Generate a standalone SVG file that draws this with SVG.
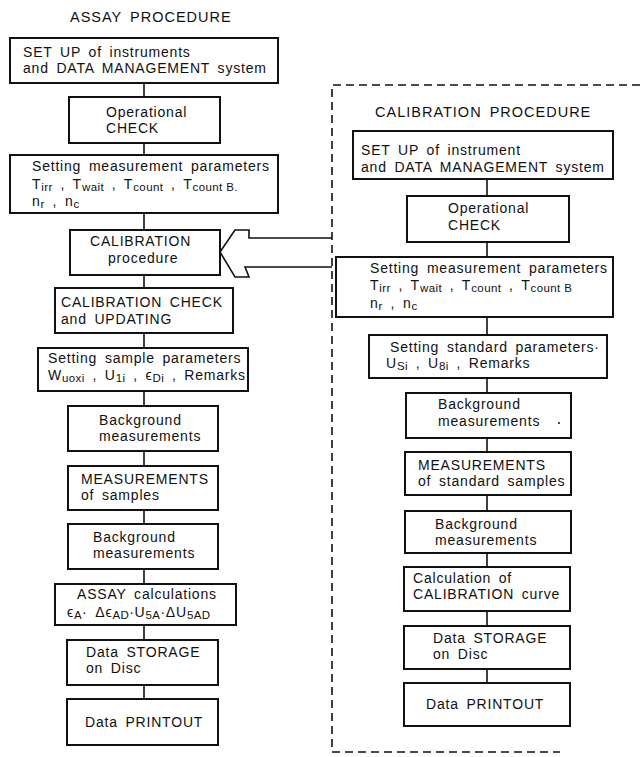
<svg xmlns="http://www.w3.org/2000/svg" width="640" height="757" viewBox="0 0 640 757">
  <style>
    .box { fill: #fff; stroke: #111; stroke-width: 2; }
    .link { fill: none; stroke: #111; stroke-width: 1.6; }
    .frame { fill: none; stroke: #111; stroke-width: 1.6; stroke-dasharray: 8 5; }
    text { font-family: "Liberation Sans", Arial, sans-serif; font-size: 14px; fill: #111; letter-spacing: 0.8px; word-spacing: 3px; }
    .title { font-size: 14.5px; letter-spacing: 1px; }
    .sub { font-size: 11.5px; letter-spacing: 0.4px; word-spacing: 0; }
  </style>

  <!-- titles -->
  <text class="title" x="70" y="22">ASSAY PROCEDURE</text>
  <text class="title" x="375" y="117">CALIBRATION PROCEDURE</text>

  <!-- connectors -->
  <g id="connectors">
    <path class="link" d="M144 83V97 M144 143V155 M144 213V230 M144 275V288 M144 333V348 M144 391V406 M144 451V466 M144 510V524 M144 569V584 M144 625V640 M144 685V699"/>
    <path class="link" d="M487 179V196 M487 242V257 M487 317V335 M487 378V393 M487 438V452 M487 495V511 M487 553V567 M487 611V626 M487 669V683"/>
    <!-- open arrow from the calibration procedure into the assay flow -->
    <polyline class="link" stroke-width="2" points="332,238 249,238 249,230 235,230 220,252 235,277 249,277 245,267 332,267"/>
    <!-- dashed frame around the calibration procedure -->
    <path class="frame" d="M640 85H332V752H560"/>
  </g>

  <!-- assay procedure -->
  <g id="a-setup">
    <rect class="box" x="10" y="38" width="268" height="45"/>
    <text x="23" y="57">SET UP of instruments</text>
    <text x="23" y="73">and DATA MANAGEMENT system</text>
  </g>
  <g id="a-check">
    <rect class="box" x="69" y="97" width="151" height="46"/>
    <text x="106" y="117">Operational</text>
    <text x="106" y="133">CHECK</text>
  </g>
  <g id="a-params">
    <rect class="box" x="10" y="155" width="268" height="58"/>
    <text x="32" y="171">Setting measurement parameters</text>
    <text x="32" y="189">T<tspan class="sub" dy="2">irr</tspan><tspan dy="-2"> , T</tspan><tspan class="sub" dy="2">wait</tspan><tspan dy="-2"> , T</tspan><tspan class="sub" dy="2">count</tspan><tspan dy="-2"> , T</tspan><tspan class="sub" dy="2">count B.</tspan></text>
    <text x="32" y="206">n<tspan class="sub" dy="2">r</tspan><tspan dy="-2"> , n</tspan><tspan class="sub" dy="2">c</tspan></text>
  </g>
  <g id="a-calibration">
    <rect class="box" x="70" y="230" width="150" height="45"/>
    <text x="90" y="246">CALIBRATION</text>
    <text x="108" y="263">procedure</text>
  </g>
  <g id="a-calcheck">
    <rect class="box" x="55" y="288" width="178" height="45"/>
    <text x="61" y="307">CALIBRATION CHECK</text>
    <text x="61" y="324">and UPDATING</text>
  </g>
  <g id="a-sample">
    <rect class="box" x="38" y="348" width="210" height="43"/>
    <text x="48" y="363">Setting sample parameters</text>
    <text x="48" y="380">W<tspan class="sub" dy="2">uoxi</tspan><tspan dy="-2"> , U</tspan><tspan class="sub" dy="2">1i</tspan><tspan dy="-2"> , ϵ</tspan><tspan class="sub" dy="2">Di</tspan><tspan dy="-2"> , Remarks</tspan></text>
  </g>
  <g id="a-bg1">
    <rect class="box" x="68" y="406" width="150" height="45"/>
    <text x="99" y="425">Background</text>
    <text x="99" y="441">measurements</text>
  </g>
  <g id="a-meas">
    <rect class="box" x="68" y="466" width="150" height="44"/>
    <text x="81" y="484">MEASUREMENTS</text>
    <text x="81" y="500">of samples</text>
  </g>
  <g id="a-bg2">
    <rect class="box" x="68" y="524" width="150" height="45"/>
    <text x="93" y="542">Background</text>
    <text x="93" y="558">measurements</text>
  </g>
  <g id="a-calc">
    <rect class="box" x="55" y="584" width="181" height="41"/>
    <text x="77" y="599">ASSAY calculations</text>
    <text x="67" y="617" word-spacing="0">ϵ<tspan class="sub" dy="2">A</tspan><tspan dy="-2">· Δϵ</tspan><tspan class="sub" dy="2">AD</tspan><tspan dy="-2">·U</tspan><tspan class="sub" dy="2">5A</tspan><tspan dy="-2">·ΔU</tspan><tspan class="sub" dy="2">5AD</tspan></text>
  </g>
  <g id="a-storage">
    <rect class="box" x="67" y="640" width="151" height="45"/>
    <text x="86" y="657">Data STORAGE</text>
    <text x="86" y="673">on Disc</text>
  </g>
  <g id="a-print">
    <rect class="box" x="67" y="699" width="151" height="46"/>
    <text x="85" y="727">Data PRINTOUT</text>
  </g>

  <!-- calibration procedure -->
  <g id="c-setup">
    <rect class="box" x="353" y="131" width="260" height="48"/>
    <text x="361" y="155">SET UP of instrument</text>
    <text x="361" y="172">and DATA MANAGEMENT system</text>
  </g>
  <g id="c-check">
    <rect class="box" x="407" y="196" width="162" height="46"/>
    <text x="448" y="213">Operational</text>
    <text x="448" y="230">CHECK</text>
  </g>
  <g id="c-params">
    <rect class="box" x="336" y="257" width="277" height="60"/>
    <text x="370" y="273">Setting measurement parameters</text>
    <text x="370" y="290">T<tspan class="sub" dy="2">irr</tspan><tspan dy="-2"> , T</tspan><tspan class="sub" dy="2">wait</tspan><tspan dy="-2"> , T</tspan><tspan class="sub" dy="2">count</tspan><tspan dy="-2"> , T</tspan><tspan class="sub" dy="2">count B</tspan></text>
    <text x="370" y="308">n<tspan class="sub" dy="2">r</tspan><tspan dy="-2">  , n</tspan><tspan class="sub" dy="2">c</tspan></text>
  </g>
  <g id="c-standard">
    <rect class="box" x="369" y="335" width="238" height="43"/>
    <text x="390" y="352">Setting standard parameters·</text>
    <text x="386" y="368">U<tspan class="sub" dy="2">Si</tspan><tspan dy="-2"> , U</tspan><tspan class="sub" dy="2">8i</tspan><tspan dy="-2"> , Remarks</tspan></text>
  </g>
  <g id="c-bg1">
    <rect class="box" x="406" y="393" width="165" height="45"/>
    <text x="438" y="409">Background</text>
    <text x="438" y="426">measurements</text>
    <circle cx="559" cy="423" r="1" fill="#111"/>
  </g>
  <g id="c-meas">
    <rect class="box" x="405" y="452" width="166" height="43"/>
    <text x="418" y="470">MEASUREMENTS</text>
    <text x="418" y="486">of standard samples</text>
  </g>
  <g id="c-bg2">
    <rect class="box" x="405" y="511" width="166" height="42"/>
    <text x="435" y="529">Background</text>
    <text x="435" y="545">measurements</text>
  </g>
  <g id="c-curve">
    <rect class="box" x="404" y="567" width="166" height="44"/>
    <text x="413" y="583">Calculation of</text>
    <text x="413" y="599">CALIBRATION curve</text>
  </g>
  <g id="c-storage">
    <rect class="box" x="404" y="626" width="166" height="43"/>
    <text x="433" y="643">Data STORAGE</text>
    <text x="433" y="659">on Disc</text>
  </g>
  <g id="c-print">
    <rect class="box" x="404" y="683" width="166" height="43"/>
    <text x="426" y="709">Data PRINTOUT</text>
  </g>
</svg>
